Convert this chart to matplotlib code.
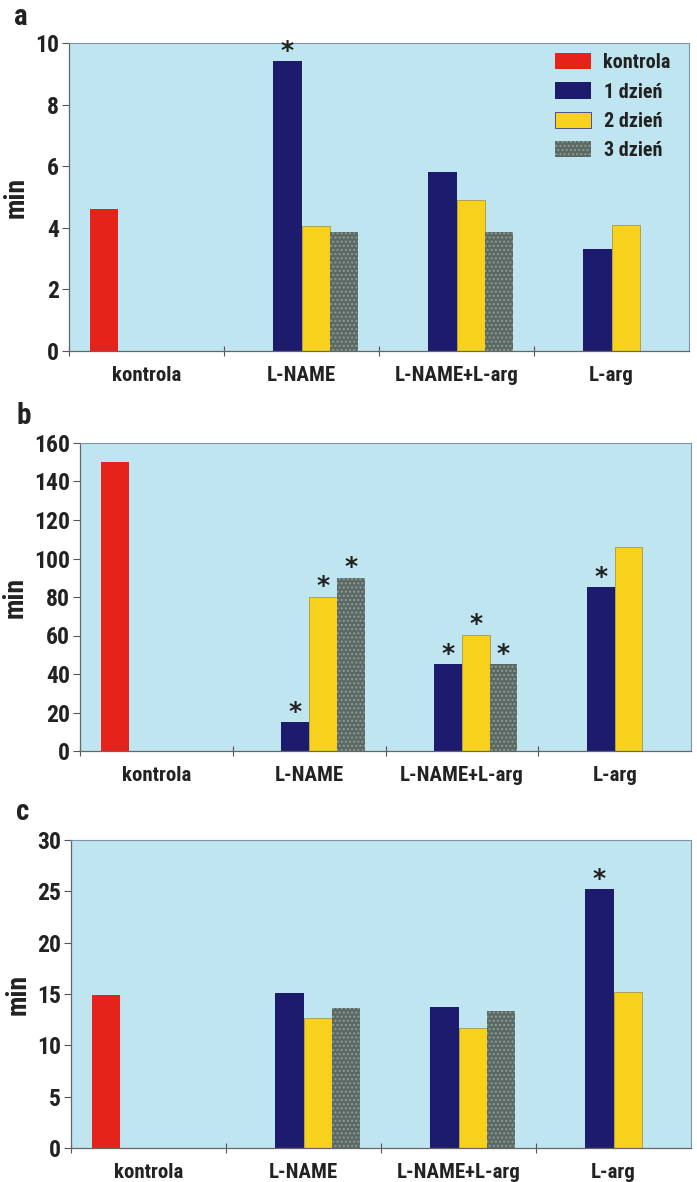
import numpy as np
import matplotlib
matplotlib.use("Agg")
import matplotlib.pyplot as plt
from matplotlib.patches import Patch
from matplotlib import font_manager

categories = ["kontrola", "L-NAME", "L-NAME+L-arg", "L-arg"]
series_names = ["kontrola", "1 dzień", "2 dzień", "3 dzień"]
nan = np.nan

# panel a
a_kontrola = [4.6, nan, nan, nan]
a_day1 = [nan, 9.4, 5.8, 3.3]
a_day2 = [nan, 4.05, 4.9, 4.1]
a_day3 = [nan, 3.85, 3.85, nan]
a_stars = [(1, 1)]  # (series index, category index)

# panel b
b_kontrola = [150, nan, nan, nan]
b_day1 = [nan, 15, 45, 85]
b_day2 = [nan, 80, 60.5, 106]
b_day3 = [nan, 90, 45, nan]
b_stars = [(1, 1), (2, 1), (3, 1), (1, 2), (2, 2), (3, 2), (1, 3)]

# panel c
c_kontrola = [14.9, nan, nan, nan]
c_day1 = [nan, 15.1, 13.7, 25.2]
c_day2 = [nan, 12.65, 11.7, 15.2]
c_day3 = [nan, 13.65, 13.3, nan]
c_stars = [(1, 3)]

panels = [
    ("a", [a_kontrola, a_day1, a_day2, a_day3], a_stars, 10, [0, 2, 4, 6, 8, 10]),
    ("b", [b_kontrola, b_day1, b_day2, b_day3], b_stars, 160, list(range(0, 161, 20))),
    ("c", [c_kontrola, c_day1, c_day2, c_day3], c_stars, 30, list(range(0, 31, 5))),
]

colors = ["#e5231b", "#1d1b6e", "#f7d11c", "#5b6964"]
bg = "#bfe5f1"
txt = "#222222"

names = {f.name for f in font_manager.fontManager.ttflist}
fam = None
for cand in ["Liberation Sans Narrow", "DejaVu Sans Condensed", "Roboto Condensed", "Open Sans Condensed"]:
    if cand in names:
        fam = cand
        break
if fam is None:
    fam = "DejaVu Sans"
    stretch = "condensed"
else:
    stretch = "normal"
font = dict(family=fam, fontstretch=stretch, fontweight="bold")

W, H = 697, 1182
fig = plt.figure(figsize=(W / 100, H / 100), dpi=100)
fig.patch.set_facecolor("white")

# pixel boxes: left, right, top, bottom
boxes = [(69, 689, 43, 351), (80, 691, 443, 751), (71, 691, 840, 1148)]
label_pos = [(14, 17), (16, 416), (16, 812)]

bw = 1.0 / 5.5
offsets = [-1.5, -0.5, 0.5, 1.5]
x = np.arange(len(categories))

for (lab, series, stars, ymax, yticks), (l, r, t, b), (lx, ly) in zip(panels, boxes, label_pos):
    ax = fig.add_axes([l / W, 1 - b / H, (r - l) / W, (b - t) / H])
    ax.set_facecolor(bg)
    for si, vals in enumerate(series):
        kw = dict(color=colors[si], linewidth=0)
        if si == 3:
            kw = dict(facecolor=colors[si], edgecolor="#8e9c94", hatch="....", linewidth=0)
        elif si == 2:
            kw = dict(facecolor=colors[si], edgecolor="#8a7a20", linewidth=0.4)
        ax.bar(x + offsets[si] * bw, vals, width=bw, label=series_names[si], zorder=2, **kw)
    for si, ci in stars:
        v = series[si][ci]
        ax.annotate("*", (x[ci] + offsets[si] * bw, v), xytext=(0, -1), textcoords="offset points",
                    ha="center", va="bottom", fontsize=18, color=txt, fontweight="bold",
                    family="DejaVu Sans", zorder=3)
    ax.set_xlim(-0.5, 3.5)
    ax.set_ylim(0, ymax)
    ax.set_yticks(yticks)
    ax.set_yticklabels([str(v) for v in yticks], fontsize=17, color=txt, **font)
    ax.set_xticks([-0.5, 0.5, 1.5, 2.5])
    ax.set_xticklabels([])
    ax.set_xticks(x, minor=True)
    ax.set_xticklabels(categories, minor=True, fontsize=15, color=txt, **font)
    ax.tick_params(axis="x", which="major", direction="inout", length=7, color="#555555", width=0.8)
    ax.tick_params(axis="x", which="minor", length=0, pad=11)
    ax.tick_params(axis="y", direction="out", length=5, color="#555555", width=0.8, pad=2)
    for s in ["left", "bottom"]:
        ax.spines[s].set_color("#666666")
        ax.spines[s].set_linewidth(0.9)
    for s in ["top", "right"]:
        ax.spines[s].set_color("#7d93b0")
        ax.spines[s].set_linewidth(0.8)
    ax.set_ylabel("min", fontsize=20, color=txt, labelpad=4, **font)
    fig.text(lx / W, 1 - ly / H, lab, fontsize=21, color=txt, ha="left", va="center", **font)
    if lab == "a":
        handles = [Patch(facecolor=colors[0]), Patch(facecolor=colors[1]),
                   Patch(facecolor=colors[2], edgecolor="#3a3a8a", linewidth=0.6),
                   Patch(facecolor=colors[3], edgecolor="#8e9c94", hatch="....", linewidth=0)]
        leg = ax.legend(handles, series_names, loc="upper right", frameon=False,
                        bbox_to_anchor=(1.0, 1.025), handlelength=1.8, handleheight=0.85,
                        labelspacing=0.5, handletextpad=0.6,
                        prop=dict(family=fam, stretch=stretch, weight="bold", size=14.5))
        for tx in leg.get_texts():
            tx.set_color(txt)

fig.savefig("out.png", dpi=100, facecolor="white")
